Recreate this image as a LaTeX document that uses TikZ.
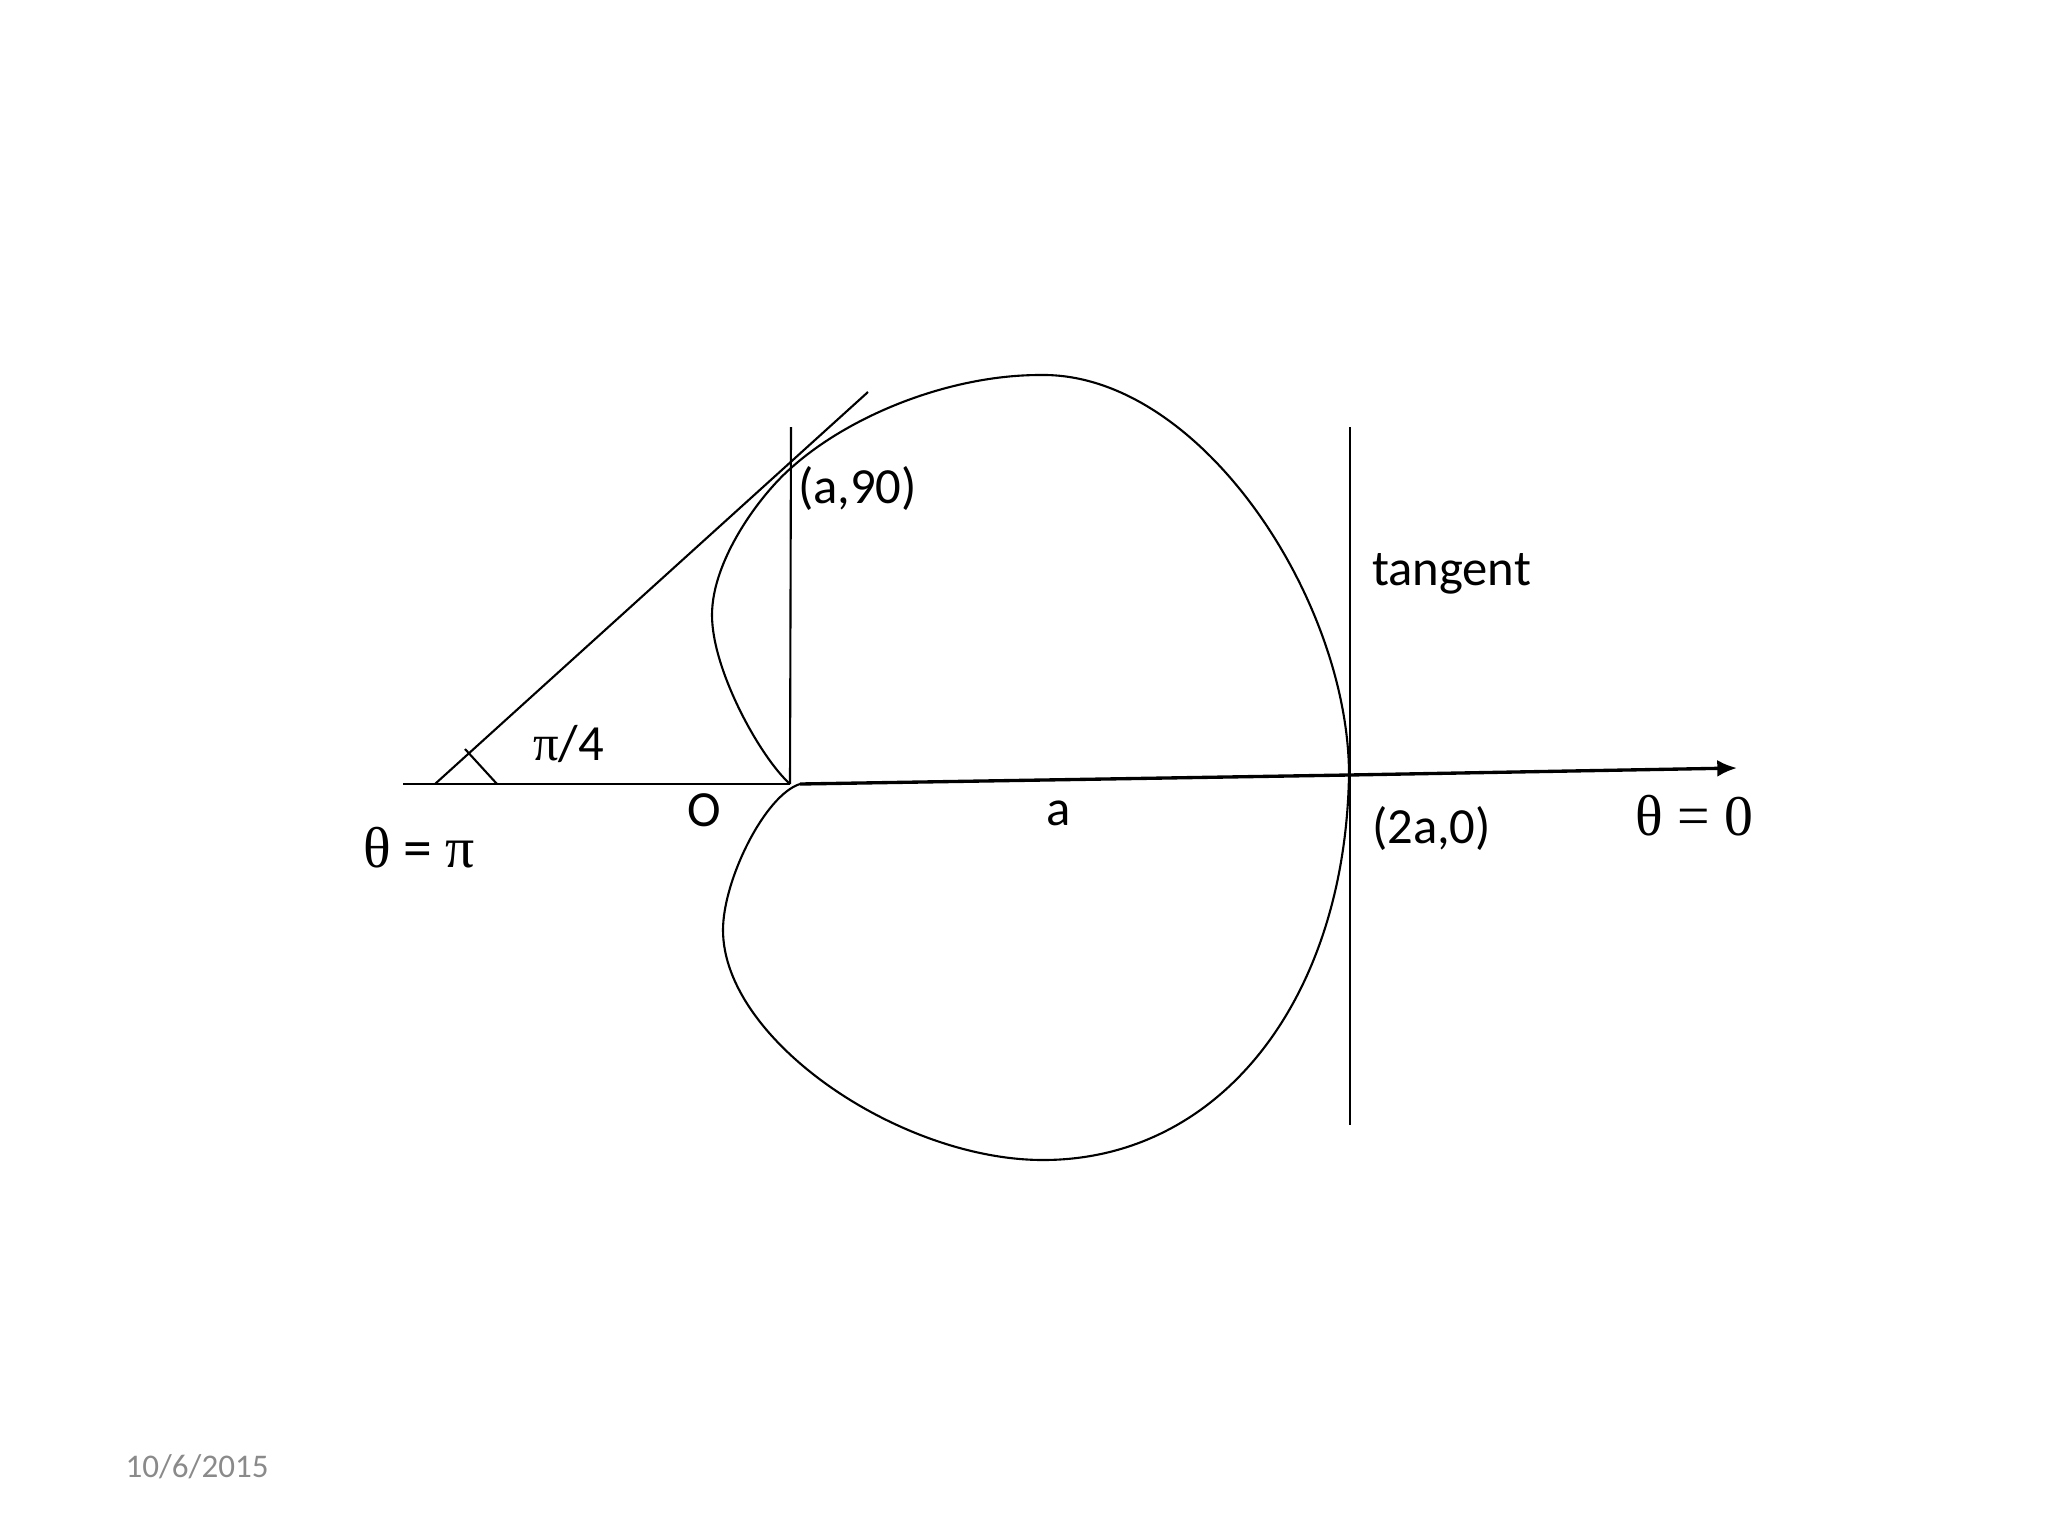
\documentclass[tikz,border=0pt]{standalone}
\usepackage{fontspec}
\setmainfont{Carlito}
\newfontfamily\serifgr{Liberation Serif}
\usetikzlibrary{arrows.meta}
\tikzset{
  thinln/.style={line width=0.6pt, black},
  axisln/.style={line width=0.95pt, black, -{Latex[length=5.6pt,width=4.8pt]}},
  lbl/.style={inner sep=0pt, outer sep=0pt, font=\fontsize{14.4}{16}\selectfont},
  biglbl/.style={inner sep=0pt, outer sep=0pt, font=\fontsize{16.4}{18}\selectfont},
}
\begin{document}
\begin{tikzpicture}[x=0.01cm, y=-0.01cm]
\useasboundingbox (0,0) rectangle (2048,1536);
% key points
\coordinate (L) at (403,784);
\coordinate (T0) at (435,784);
\coordinate (T1) at (868,392);
\coordinate (O) at (790,784);
\coordinate (O2) at (800,784);
\coordinate (V1top) at (791,427);
\coordinate (R) at (1349,775);
\coordinate (Rtop) at (1350,427);
\coordinate (Rbot) at (1350,1125);
\coordinate (E) at (1737,768);
\coordinate (M1) at (465,749);
\coordinate (M2) at (497,784);
\coordinate (P1) at (712,615);
\coordinate (P2) at (791,468);
\coordinate (Top) at (1040,375);
\coordinate (Bot) at (1043,1160);
\coordinate (P3) at (723,930);
% horizontal line to the left of O
\draw[thinln] (L) -- (O);
% tangent at 45 degrees
\draw[thinln] (T0) -- (T1);
% right-angle mark
\draw[thinln] (M1) -- (M2);
% vertical line at O
\draw[thinln] (V1top) -- (O);
% vertical tangent at (2a,0)
\draw[thinln] (Rtop) -- (Rbot);
% initial line
\draw[axisln] (O2) -- (R) -- (E);
% curve
\draw[thinln] (O) .. controls (760,757) and (712,670) .. (P1)
  .. controls (712,560) and (760,495) .. (P2)
  .. controls (850,415) and (950,375) .. (Top)
  .. controls (1200,372) and (1349,600) .. (R)
  .. controls (1345,1000) and (1220,1160) .. (Bot)
  .. controls (900,1160) and (723,1040) .. (P3)
  .. controls (723,880) and (765,795) .. (O2);
% labels
\node[lbl, anchor=west] (a90) at (798,488) {(a,90)};
\node[lbl, anchor=base west] (tg) at (1372,585) {tangent};
\node[lbl, anchor=west] (p2a) at (1372,828) {(2a,0)};
\node[lbl, anchor=base west] (lO) at (687,826) {O};
\node[lbl, anchor=base west] (la) at (1046,825) {a};
\node[lbl, anchor=base west] (pi4) at (533,760) {{\serifgr π}/4};
\node[biglbl, anchor=base west] (th0) at (1635,835) {\serifgr θ = 0};
\node[biglbl, anchor=base west] (thpi) at (363,867) {{\serifgr θ} = {\serifgr π}};
\node[inner sep=0pt, anchor=base west, font=\fontsize{9.4}{11}\selectfont, text=black!46] (date) at (125,1477) {10/6/2015};
\end{tikzpicture}
\end{document}
